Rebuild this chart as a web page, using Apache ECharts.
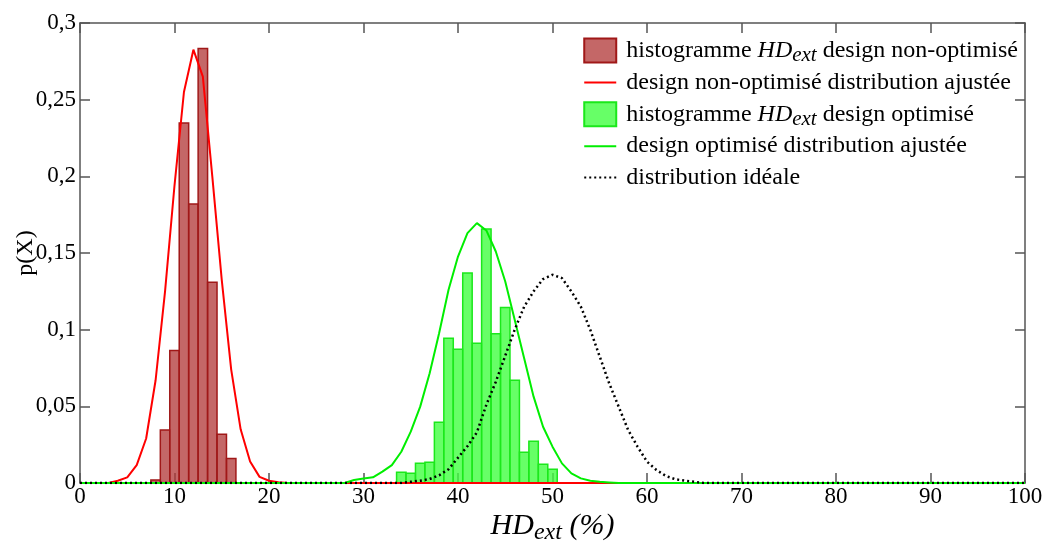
<!DOCTYPE html>
<html lang="fr">
<head>
    <meta charset="UTF-8">
    <title>Histogrammes HDext</title>
    <script src="https://cdn.jsdelivr.net/npm/echarts@6/dist/echarts.min.js"></script>
    <style>
        body { margin: 0; background: #fff; }
        #box { width: 1045px; height: 543px; }
    </style>
</head>
<body>
    <div id="box"></div>
    <script>
        // histogrammes (centre des classes, largeur 1)
        const binWidth = 1
        const redBins = [8, 9, 10, 11, 12, 13, 14, 15, 16]
        const redHist = [0.002, 0.0346, 0.0864, 0.2348, 0.1819, 0.2833, 0.131, 0.0318, 0.016]
        const greenBins = [34, 35, 36, 37, 38, 39, 40, 41, 42, 43, 44, 45, 46, 47, 48, 49, 50]
        const greenHist = [0.007, 0.0063, 0.0128, 0.0135, 0.0396, 0.0944, 0.0873, 0.1369, 0.0912,
            0.1656, 0.0973, 0.1144, 0.067, 0.020, 0.0272, 0.0122, 0.0089]

        // distributions ajustées
        const redFitX = [0, 3, 4, 5, 6, 7, 8, 9, 10, 11, 12, 13, 14, 15, 16, 17, 18, 19, 20, 21, 22, 100]
        const redFitY = [0, 0, 0.0015, 0.0037, 0.0117, 0.029, 0.067, 0.125, 0.194, 0.255, 0.2826,
            0.265, 0.20, 0.1325, 0.074, 0.035, 0.014, 0.004, 0.0015, 0.0005, 0, 0]
        const greenFitX = [0, 28, 29, 30, 31, 32, 33, 34, 35, 36, 37, 38, 39, 40, 41, 42, 43, 44, 45,
            46, 47, 48, 49, 50, 51, 52, 53, 54, 55, 56, 57, 100]
        const greenFitY = [0, 0, 0.002, 0.003, 0.0037, 0.0074, 0.0117, 0.0204, 0.0335, 0.0498, 0.0716,
            0.0977, 0.126, 0.1477, 0.163, 0.1695, 0.1647, 0.151, 0.1314, 0.1064, 0.0814, 0.0563,
            0.0367, 0.0237, 0.0128, 0.0063, 0.003, 0.0015, 0.0008, 0.0004, 0, 0]
        const idealX = [0, 34, 35, 36, 37, 38, 39, 40, 41, 42, 43, 44, 45, 46, 47, 48, 49, 50, 51, 52,
            53, 54, 55, 56, 57, 58, 59, 60, 61, 62, 63, 64, 65, 66, 100]
        const idealY = [0, 0, 0.0008, 0.0015, 0.0026, 0.005, 0.009, 0.0165, 0.024, 0.033, 0.051, 0.066,
            0.083, 0.100, 0.115, 0.125, 0.133, 0.1358, 0.1336, 0.1249, 0.115, 0.0999, 0.0824, 0.065,
            0.0498, 0.0346, 0.0237, 0.0139, 0.0085, 0.0046, 0.0024, 0.0015, 0.0008, 0, 0]

        const xTicks = { min: 0, max: 100, interval: 10 }
        const yTicks = { min: 0, max: 0.3, interval: 0.05 }

        const serif = 'Liberation Serif'
        const pair = (xs, ys) => xs.map((x, i) => [x, ys[i]])

        function histItem(fill, stroke) {
            return function (params, api) {
                const x = api.value(0), y = api.value(1)
                const p0 = api.coord([x - binWidth / 2, y])
                const p1 = api.coord([x + binWidth / 2, 0])
                return {
                    type: 'rect',
                    shape: { x: p0[0], y: p0[1], width: p1[0] - p0[0], height: p1[1] - p0[1] },
                    style: { fill: fill, stroke: stroke, lineWidth: 1.5 }
                }
            }
        }

        const legendNames = {
            h1: 'histogramme {i|HD}{s|ext} design non-optimisé',
            f1: 'design non-optimisé distribution ajustée',
            h2: 'histogramme {i|HD}{s|ext} design optimisé',
            f2: 'design optimisé distribution ajustée',
            id: 'distribution idéale'
        }

        const frameAxis = {
            axisLine: { show: true, onZero: false, lineStyle: { color: '#555', width: 1.5 } },
            axisTick: { show: true, inside: true, length: 10, lineStyle: { color: '#555', width: 1.5 } },
            splitLine: { show: false }
        }

        var myChart = echarts.init(document.getElementById('box'))
        var option = {
            animation: false,
            grid: { left: 80, right: 20, top: 23, bottom: 60, outerBoundsMode: 'none', containLabel: false },
            legend: {
                orient: 'vertical',
                right: 22,
                top: 30,
                itemWidth: 32,
                itemHeight: 24,
                itemGap: 1.4,
                data: [
                    { name: 'h1', icon: 'rect' },
                    { name: 'f1', itemStyle: { opacity: 0 } },
                    { name: 'h2', icon: 'rect' },
                    { name: 'f2', itemStyle: { opacity: 0 } },
                    { name: 'id', itemStyle: { opacity: 0 } }
                ],
                formatter: name => legendNames[name],
                textStyle: {
                    fontFamily: serif, fontSize: 24, color: '#000', lineHeight: 30, padding: [0, 0, 0, 5],
                    rich: {
                        i: { fontFamily: serif, fontSize: 24, fontStyle: 'italic', color: '#000', lineHeight: 30 },
                        s: { fontFamily: serif, fontSize: 21, fontStyle: 'italic', color: '#000', lineHeight: 20, padding: [10, 0, 0, 0] }
                    }
                }
            },
            xAxis: [Object.assign({
                type: 'value', position: 'bottom',
                min: xTicks.min, max: xTicks.max, interval: xTicks.interval,
                axisLabel: { fontFamily: serif, fontSize: 23, color: '#000', margin: 2 },
                name: '{i|HD}{s|ext}{i| (%)}',
                nameLocation: 'middle',
                nameGap: 25,
                nameMoveOverlap: false,
                nameTextStyle: {
                    rich: {
                        i: { fontFamily: serif, fontSize: 30, fontStyle: 'italic', color: '#000' },
                        s: { fontFamily: serif, fontSize: 24, fontStyle: 'italic', color: '#000', padding: [13, 0, 0, 0] }
                    }
                }
            }, frameAxis), Object.assign({
                type: 'value', position: 'top',
                min: xTicks.min, max: xTicks.max, interval: xTicks.interval,
                axisLabel: { show: false }
            }, frameAxis)],
            yAxis: [Object.assign({
                type: 'value', position: 'left',
                min: yTicks.min, max: yTicks.max, interval: yTicks.interval,
                axisLabel: {
                    fontFamily: serif, fontSize: 23, color: '#000', margin: 4,
                    formatter: v => String(+v.toFixed(2)).replace('.', ',')
                },
                name: 'p(X)',
                nameLocation: 'middle',
                nameGap: 42,
                nameMoveOverlap: false,
                nameTextStyle: { fontFamily: serif, fontSize: 24, color: '#000' }
            }, frameAxis), Object.assign({
                type: 'value', position: 'right',
                min: yTicks.min, max: yTicks.max, interval: yTicks.interval,
                axisLabel: { show: false }
            }, frameAxis)],
            series: [{
                name: 'h1',
                type: 'custom',
                renderItem: histItem('rgba(176, 52, 52, 0.75)', '#a01818'),
                itemStyle: { color: 'rgba(176, 52, 52, 0.75)', borderColor: '#a01818', borderWidth: 1 },
                encode: { x: 0, y: 1 },
                data: pair(redBins, redHist)
            }, {
                name: 'f1',
                type: 'line',
                symbol: 'none',
                lineStyle: { color: '#ff0000', width: 2 },
                itemStyle: { color: '#ff0000' },
                data: pair(redFitX, redFitY)
            }, {
                name: 'h2',
                type: 'custom',
                renderItem: histItem('rgba(60, 255, 60, 0.78)', '#1be81b'),
                itemStyle: { color: 'rgba(60, 255, 60, 0.78)', borderColor: '#1be81b', borderWidth: 1 },
                encode: { x: 0, y: 1 },
                data: pair(greenBins, greenHist)
            }, {
                name: 'f2',
                type: 'line',
                symbol: 'none',
                lineStyle: { color: '#00ee00', width: 2 },
                itemStyle: { color: '#00ee00' },
                data: pair(greenFitX, greenFitY)
            }, {
                name: 'id',
                type: 'line',
                symbol: 'none',
                lineStyle: { color: '#000', width: 2.5, type: [2, 3] },
                itemStyle: { color: '#000' },
                data: pair(idealX, idealY)
            }]
        }
        myChart.setOption(option)
    </script>
</body>
</html>
